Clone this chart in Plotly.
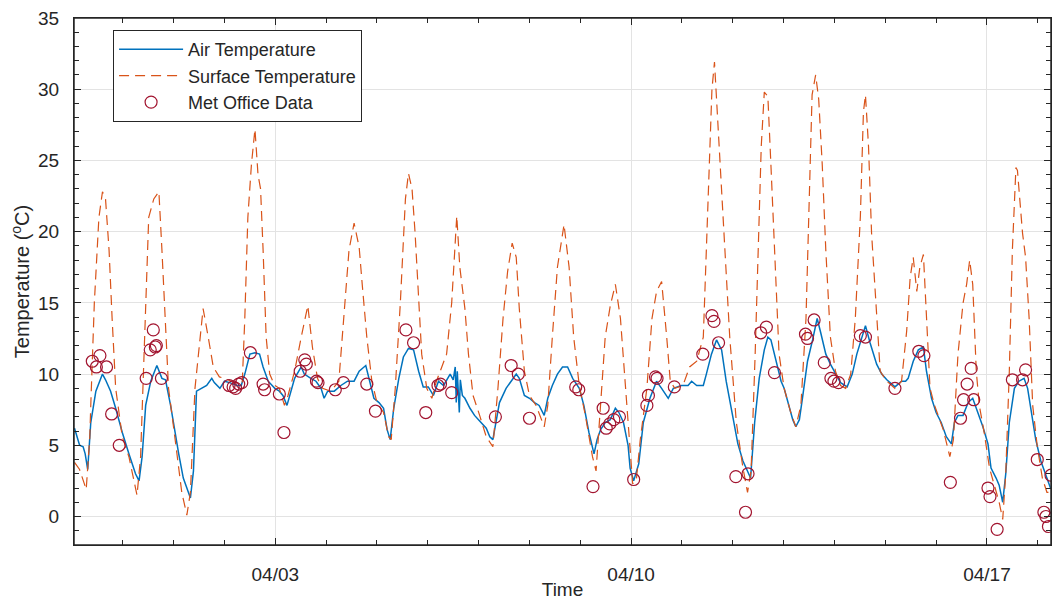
import pandas as pd
import plotly.graph_objects as go

# time values are in days since 2023-03-30 00:00
air_t = [0.05,0.15,0.22,0.26,0.31,0.37,0.47,0.60,0.66,0.76,0.86,0.99,1.12,1.25,1.32,1.38,1.45,1.55,1.67,1.77,
         1.84,1.94,2.10,2.19,2.33,2.39,2.45,2.55,2.65,2.75,2.80,2.91,3.00,3.10,3.25,3.33,3.40,3.50,3.60,3.69,
         3.76,3.86,3.99,4.08,4.15,4.23,4.28,4.38,4.51,4.57,4.70,4.80,4.90,4.96,5.03,5.16,5.29,5.42,5.55,5.65,
         5.78,5.84,5.94,6.04,6.13,6.20,6.26,6.33,6.43,6.52,6.62,6.72,6.82,6.91,7.01,7.11,7.21,7.31,7.44,7.50,
         7.54,7.56,7.58,7.62,7.64,7.68,7.73,7.83,7.92,8.02,8.15,8.22,8.28,8.41,8.54,8.64,8.74,8.80,8.90,9.00,
         9.10,9.19,9.29,9.36,9.45,9.55,9.65,9.75,9.85,9.98,10.07,10.17,10.27,10.33,10.40,10.49,10.59,10.69,10.76,10.85,
         10.94,10.98,11.05,11.15,11.24,11.37,11.50,11.60,11.73,11.83,11.99,12.12,12.19,12.29,12.42,12.48,12.58,12.68,12.78,12.87,
         12.97,13.10,13.20,13.29,13.35,13.43,13.52,13.62,13.69,13.75,13.85,13.95,14.01,14.11,14.18,14.24,14.31,14.37,14.47,14.57,
         14.66,14.73,14.83,14.92,15.02,15.12,15.25,15.35,15.44,15.54,15.61,15.70,15.83,15.93,16.03,16.19,16.32,16.40,16.45,16.55,
         16.65,16.75,16.81,16.91,17.00,17.10,17.20,17.30,17.36,17.43,17.53,17.63,17.72,17.82,17.92,18.02,18.08,18.18,18.24,18.31,
         18.37,18.44,18.54,18.63,18.73,18.80,18.86,18.96,19.06,19.15,19.25]
air_v = [6.2,5.0,4.9,4.4,3.3,6.6,8.8,10.0,9.6,8.8,7.6,5.9,4.4,3.0,2.5,4.2,7.8,9.5,10.6,9.7,
         9.6,7.8,4.4,2.7,1.3,3.2,8.8,9.0,9.2,9.7,9.4,9.0,9.5,9.4,9.2,9.2,10.0,11.4,11.5,11.4,
         10.5,9.5,9.0,8.8,8.5,7.8,8.5,9.7,10.5,10.0,9.7,9.5,9.0,8.3,8.8,8.8,9.2,9.5,9.5,10.2,
         10.6,9.7,8.3,8.0,7.6,6.1,5.4,7.6,9.7,11.2,11.8,11.7,10.2,9.1,9.1,8.5,9.5,9.2,10.0,9.6,
         10.5,8.0,10.2,7.3,9.6,8.5,8.3,7.6,7.1,6.7,6.2,5.6,5.4,8.0,9.0,9.5,10.0,9.7,8.5,8.3,
         8.0,7.8,7.1,8.3,9.2,10.0,10.5,10.5,9.7,9.0,7.8,5.9,4.4,5.4,6.1,6.6,6.8,7.6,7.3,6.6,
         5.0,3.4,2.5,3.7,6.6,8.3,9.5,9.0,8.3,9.0,9.2,9.2,9.5,9.2,9.2,10.0,11.4,12.4,11.7,9.5,
         7.6,5.1,3.9,3.2,2.7,6.6,9.7,11.7,12.6,12.4,10.9,9.5,9.0,7.6,6.8,6.3,6.8,8.3,10.9,12.4,
         13.9,12.9,11.4,10.7,10.0,9.4,9.1,10.0,11.4,12.6,13.4,12.2,10.7,10.0,9.6,9.1,9.5,9.5,9.7,10.9,
         11.7,11.9,10.2,8.3,7.3,6.6,5.6,5.1,6.6,7.1,7.1,8.0,8.3,7.3,6.3,5.1,3.4,2.7,2.2,1.0,
         3.0,6.6,9.0,9.5,9.7,9.0,7.6,5.4,3.9,3.0,2.0]

surf_t = [0.05,0.15,0.28,0.35,0.37,0.44,0.53,0.60,0.66,0.73,0.79,0.86,0.99,1.12,1.25,1.28,1.35,1.45,1.51,1.61,
          1.71,1.77,1.84,1.90,2.03,2.16,2.26,2.33,2.42,2.52,2.58,2.68,2.78,2.90,3.00,3.20,3.35,3.40,3.46,3.53,
          3.60,3.66,3.71,3.76,3.82,3.89,3.99,4.08,4.18,4.25,4.38,4.51,4.64,4.73,4.83,4.93,5.09,5.25,5.35,5.45,
          5.55,5.65,5.71,5.80,5.90,6.00,6.13,6.23,6.28,6.36,6.46,6.56,6.62,6.69,6.75,6.82,6.88,6.98,7.08,7.17,
          7.37,7.47,7.54,7.57,7.63,7.73,7.80,7.89,8.02,8.15,8.28,8.38,8.48,8.57,8.66,8.74,8.80,8.90,9.00,9.13,
          9.29,9.36,9.45,9.55,9.68,9.78,9.87,9.98,10.10,10.24,10.31,10.40,10.49,10.59,10.69,10.79,10.89,10.98,11.03,11.10,
          11.18,11.31,11.41,11.50,11.60,11.70,11.77,11.86,12.02,12.15,12.29,12.42,12.48,12.55,12.59,12.64,12.71,12.77,12.84,12.94,
          13.07,13.20,13.29,13.36,13.44,13.50,13.56,13.62,13.69,13.75,13.82,13.91,14.01,14.14,14.24,14.34,14.44,14.50,14.56,14.63,
          14.69,14.76,14.83,14.92,15.02,15.12,15.22,15.32,15.41,15.51,15.57,15.61,15.67,15.73,15.83,15.90,16.03,16.19,16.32,16.42,
          16.49,16.55,16.62,16.68,16.75,16.81,16.88,16.97,17.14,17.27,17.34,17.43,17.53,17.60,17.66,17.72,17.79,17.85,17.95,18.05,
          18.15,18.24,18.31,18.37,18.44,18.50,18.57,18.60,18.70,18.76,18.83,18.90,18.99,19.09,19.18,19.25]
surf_v = [3.8,3.3,1.9,5.5,7.8,15.0,21.0,22.8,22.3,18.7,13.9,9.0,5.6,4.2,2.0,1.5,4.2,13.9,21.0,22.3,
          22.8,18.7,13.9,9.0,5.4,1.7,0.1,1.7,9.0,12.6,14.6,12.6,10.5,9.8,9.7,9.4,9.4,13.9,21.0,24.7,
          27.2,24.0,23.0,18.7,12.6,10.0,9.2,9.0,7.8,8.5,10.2,12.6,14.8,11.9,9.7,9.0,8.8,9.5,13.9,18.7,
          20.6,18.9,16.3,12.6,9.5,8.0,7.3,5.6,5.4,9.0,15.0,22.3,24.1,23.0,19.9,15.0,11.4,9.0,8.3,9.5,
          11.4,15.0,19.9,21.1,17.5,14.6,11.4,8.5,7.1,5.6,4.9,9.0,13.9,17.2,19.2,18.2,14.6,10.2,8.5,7.8,
          6.3,7.8,12.6,17.5,20.5,17.5,12.6,9.2,7.1,4.2,3.2,7.8,12.6,14.8,16.3,13.9,9.0,4.2,2.3,2.5,
          5.4,9.0,13.9,15.8,16.5,12.6,9.5,9.0,9.2,10.5,10.9,12.6,18.7,26.0,30.0,31.9,27.2,23.5,18.7,12.6,
          6.6,3.4,1.7,3.2,11.4,18.7,26.0,29.8,29.5,24.7,18.7,11.4,9.0,7.3,6.3,7.8,13.9,22.3,29.6,31.0,
          29.3,24.7,18.7,12.6,10.2,9.2,9.0,10.0,13.9,21.1,28.4,29.6,26.0,19.9,13.9,10.2,9.5,9.0,9.5,13.0,
          16.8,18.2,15.8,17.5,18.4,13.9,9.0,7.8,6.1,4.2,5.4,11.4,15.0,16.3,18.0,16.3,10.2,7.8,5.8,3.4,
          2.2,1.0,-0.2,3.0,10.2,18.7,24.5,24.3,19.9,18.2,13.9,7.8,4.9,2.7,1.7,1.7]

met_t = [0.40,0.48,0.55,0.68,0.78,0.93,1.46,1.54,1.60,1.64,1.66,1.76,3.09,3.17,3.22,3.28,3.34,3.51,3.76,3.79,
         4.08,4.17,4.49,4.58,4.61,4.81,4.84,5.18,5.34,5.80,5.97,6.57,6.72,6.96,7.20,7.25,7.47,8.33,8.64,8.78,
         9.00,9.91,9.97,10.25,10.45,10.51,10.58,10.66,10.77,11.05,11.31,11.34,11.48,11.51,11.85,12.41,12.59,12.63,12.72,13.06,
         13.25,13.30,13.55,13.66,13.82,14.43,14.47,14.60,14.80,14.93,14.99,15.08,15.51,15.61,16.19,16.66,16.76,17.28,17.48,17.54,
         17.61,17.69,17.74,18.02,18.06,18.20,18.50,18.70,18.76,18.99,19.12,19.16,19.21,19.26]
met_v = [10.9,10.5,11.3,10.5,7.2,5.0,9.7,11.7,13.1,11.9,12.0,9.7,9.2,9.1,9.0,9.3,9.4,11.5,9.3,8.9,
         8.6,5.9,10.2,11.0,10.7,9.5,9.4,8.9,9.4,9.3,7.4,13.1,12.2,7.3,9.2,9.3,8.7,7.0,10.6,10.0,
         6.9,9.1,8.9,2.1,7.6,6.2,6.5,6.8,7.0,2.6,7.8,8.5,9.8,9.7,9.1,11.4,14.1,13.7,12.2,2.8,
         0.3,3.0,12.9,13.3,10.1,12.8,12.5,13.8,10.8,9.7,9.5,9.4,12.7,12.6,9.0,11.6,11.3,2.4,6.9,8.2,
         9.3,10.4,8.2,2.0,1.4,-0.9,9.6,9.6,10.3,4.0,0.3,0.0,-0.7,2.9]

base = pd.Timestamp("2023-03-30")
to_dt = lambda ts: base + pd.to_timedelta(ts, unit="D")

fig = go.Figure()
fig.add_trace(go.Scatter(x=to_dt(air_t), y=air_v, mode="lines", name="Air Temperature",
                         line=dict(color="#0072BD", width=1.5)))
fig.add_trace(go.Scatter(x=to_dt(surf_t), y=surf_v, mode="lines", name="Surface Temperature",
                         line=dict(color="#D95319", width=1.2, dash="10px,6px")))
fig.add_trace(go.Scatter(x=to_dt(met_t), y=met_v, mode="markers", name="Met Office Data",
                         marker=dict(symbol="circle-open", size=12, color="#A2142F", line=dict(width=1.2))))

font_main = "Liberation Sans, Arial, sans-serif"
axis_common = dict(showline=True, linecolor="#262626", linewidth=1.2, mirror="allticks",
                   ticks="inside", ticklen=7, tickcolor="#262626", automargin=False,
                   ticklabeloverflow="allow",
                   showgrid=True, gridcolor="#E3E3E3", gridwidth=1, zeroline=False,
                   tickfont=dict(family=font_main, size=19, color="#262626"))

# the page body adds an 8px offset on each side, so the figure is sized to fit the window exactly
fig.update_layout(
    width=1045, height=592,
    margin=dict(l=66, r=2, t=10, b=55),
    paper_bgcolor="white", plot_bgcolor="white",
    font=dict(family=font_main, color="#262626"),
    showlegend=True,
    legend=dict(x=0.04, y=0.977, xanchor="left", yanchor="top",
                bgcolor="white", bordercolor="#262626", borderwidth=1,
                font=dict(family=font_main, size=18, color="#262626"),
                itemwidth=64, tracegroupgap=0),
    xaxis=dict(axis_common, range=[to_dt(0.04), to_dt(19.26)],
               tick0="2023-04-03", dtick=7 * 86400000, tickformat="%m/%d",
               ticklabelstandoff=12,
               minor=dict(ticks="inside", ticklen=5, dtick=86400000, tick0="2023-04-03",
                          tickcolor="#262626", showgrid=False),
               title=dict(text="Time", font=dict(family=font_main, size=19, color="#262626"), standoff=5)),
    yaxis=dict(axis_common, range=[-2, 35], tick0=0, dtick=5,
               ticklabelstandoff=10,
               minor=dict(ticks="inside", ticklen=5, dtick=1, tickcolor="#262626", showgrid=False),
               title=dict(text="Temperature (<sup>o</sup>C)", font=dict(family=font_main, size=20, color="#262626"),
                          standoff=5)),
    shapes=[dict(type="rect", xref="paper", yref="paper", x0=0, x1=1, y0=0, y1=1,
                 line=dict(color="#262626", width=1.5), fillcolor="rgba(0,0,0,0)", layer="above")],
)

fig.write_html("out.html")
